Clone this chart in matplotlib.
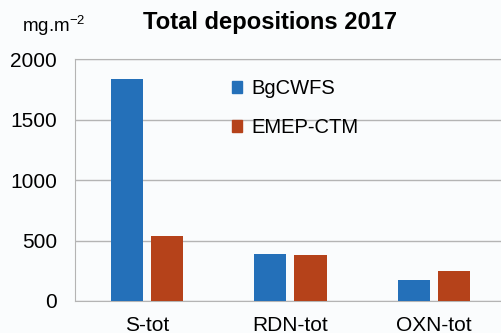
import numpy as np
import matplotlib
matplotlib.use('Agg')
import matplotlib.pyplot as plt
from matplotlib.patches import Patch

plt.rcParams['font.family'] = ['Liberation Sans', 'DejaVu Sans']
plt.rcParams['mathtext.fontset'] = 'custom'
plt.rcParams['mathtext.rm'] = 'Liberation Sans'

categories = ['S-tot', 'RDN-tot', 'OXN-tot']
bgcwfs = [1835, 391, 176]
emep = [540, 380, 248]
yticks = [0, 500, 1000, 1500, 2000]

blue = '#2470b9'
red = '#b5421a'
bg = '#fafcfd'

fig = plt.figure(figsize=(5.01, 3.33), dpi=100, facecolor=bg)
ax = fig.add_axes([0.1497, 0.0961, 0.86, 0.7267], facecolor=bg)

x = np.arange(len(categories))
w = 0.225
ax.bar(x - 0.14, bgcwfs, w, color=blue, zorder=3)
ax.bar(x + 0.14, emep, w, color=red, zorder=3)

ax.set_xlim(-0.5, 2.5)
ax.set_ylim(0, 2000)
ax.set_yticks(yticks)
ax.set_yticklabels([str(v) for v in yticks], fontsize=15)
ax.set_xticks(x)
ax.set_xticklabels(categories, fontsize=15)
ax.tick_params(axis='y', length=0, pad=13)
ax.tick_params(axis='x', length=0, pad=11)
ax.yaxis.grid(True, color='#b4b4b4', linewidth=1.0, zorder=0)
for s in ['left', 'bottom', 'top']:
    ax.spines[s].set_color('#b4b4b4')
ax.spines['right'].set_visible(False)

handles = [Patch(color=blue, label='BgCWFS'), Patch(color=red, label='EMEP-CTM')]
ax.legend(handles=handles, loc='upper left', bbox_to_anchor=(232 / 501, 1 - 79 / 333),
          bbox_transform=fig.transFigure, frameon=False, fontsize=14.5,
          handlelength=0.5, handleheight=0.5, handletextpad=0.45,
          labelspacing=1.0, borderpad=0, borderaxespad=0)

fig.text(270 / 501, 1 - 22 / 333, 'Total depositions 2017', fontsize=17.1,
         fontweight='bold', ha='center', va='center')
fig.text(22 / 501, 1 - 26 / 333, r'mg.m$^{\mathregular{-2}}$', fontsize=13.5,
         ha='left', va='center')

fig.savefig('out.png', dpi=100, facecolor=bg)
